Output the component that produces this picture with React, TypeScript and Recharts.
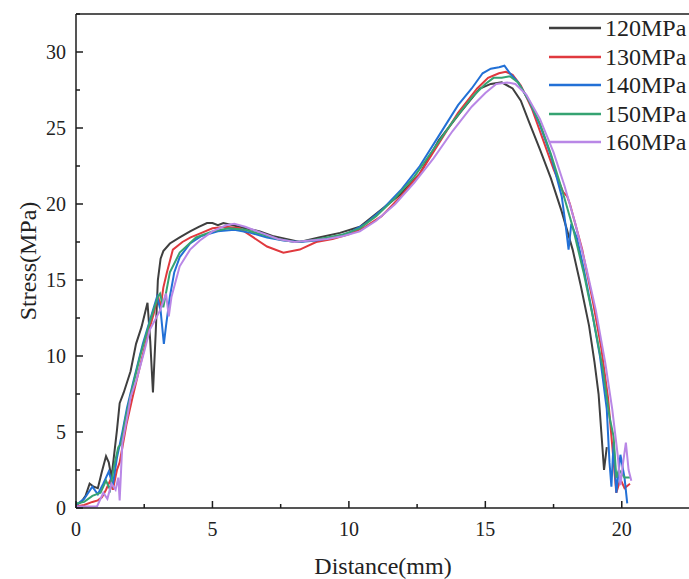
import React from 'react';
import {
  LineChart,
  Line,
  XAxis,
  YAxis,
  ReferenceLine
} from 'recharts';

// distance (mm) / stress (MPa), one pair per pressure
const dist120 = [0, 0.2, 0.35, 0.5, 0.65, 0.8, 0.95, 1.1, 1.2, 1.3, 1.5, 1.6, 1.75, 2.0, 2.2, 2.4, 2.62, 2.72, 2.82, 2.92, 3.0, 3.1, 3.2, 3.44, 3.8, 4.18, 4.5, 4.8, 5.0, 5.2, 5.4, 5.75, 6.2, 6.74, 7.2, 7.7, 8.2, 8.9, 9.67, 10.4, 11.1, 11.87, 12.6, 13.3, 14.07, 14.8, 15.2, 15.6, 16.0, 16.3, 16.6, 17.0, 17.4, 17.8, 18.2, 18.5, 18.8, 19.0, 19.15, 19.25, 19.35, 19.45];
const stress120 = [0.2, 0.4, 0.8, 1.6, 1.4, 1.3, 2.4, 3.4, 3.0, 2.0, 5.1, 6.9, 7.6, 9.0, 10.8, 11.9, 13.5, 11.0, 7.6, 11.5, 15.0, 16.4, 16.9, 17.4, 17.8, 18.2, 18.5, 18.75, 18.75, 18.6, 18.75, 18.6, 18.4, 18.2, 17.9, 17.7, 17.5, 17.8, 18.1, 18.5, 19.5, 20.6, 22.0, 24.2, 26.0, 27.6, 27.9, 28.0, 27.6, 26.8, 25.4, 23.6, 21.7, 19.5, 17.0, 14.6, 12.0, 9.6, 7.5, 5.0, 2.5, 4.0];

const dist130 = [0, 0.3, 0.6, 0.8, 0.95, 1.1, 1.25, 1.35, 1.5, 1.6, 1.7, 1.85, 2.05, 2.3, 2.6, 2.85, 3.0, 3.1, 3.2, 3.33, 3.55, 3.9, 4.2, 4.6, 5.0, 5.5, 6.0, 6.5, 7.0, 7.6, 8.2, 8.8, 9.4, 10.0, 10.6, 11.2, 11.9, 12.6, 13.3, 14.0, 14.7, 15.1, 15.5, 15.75, 16.0, 16.3, 16.7, 17.1, 17.5, 17.85, 18.0, 18.1, 18.55, 18.95, 19.25, 19.5, 19.68, 19.8, 19.95, 20.1, 20.3];
const stress130 = [0.1, 0.2, 0.4, 0.5, 0.7, 1.2, 1.8, 1.2, 2.5, 3.0, 4.0, 5.5, 7.1, 9.0, 11.2, 12.8, 14.0, 13.2, 14.5, 15.5, 17.0, 17.5, 17.8, 18.1, 18.4, 18.5, 18.4, 17.8, 17.2, 16.8, 17.0, 17.5, 17.7, 18.0, 18.5, 19.2, 20.5, 22.0, 24.0, 26.0, 27.6, 28.3, 28.6, 28.7, 28.5, 27.8, 26.3, 24.3, 22.3, 20.8, 20.5, 20.0, 17.0, 13.5, 10.5, 7.2, 3.5, 1.0, 1.9, 1.3, 1.6];

const dist140 = [0, 0.3, 0.6, 0.8, 1.0, 1.2, 1.35, 1.5, 1.7, 1.87, 2.1, 2.45, 2.75, 2.97, 3.1, 3.22, 3.3, 3.44, 3.6, 3.8, 4.18, 4.6, 5.2, 5.8, 6.4, 7.0, 7.6, 8.2, 8.8, 9.4, 10.0, 10.6, 11.2, 11.9, 12.6, 13.3, 14.0, 14.5, 14.9, 15.2, 15.5, 15.7, 15.9, 16.2, 16.6, 17.0, 17.4, 17.8, 17.95, 18.05, 18.15, 18.35, 18.6, 18.9, 19.2, 19.45, 19.55, 19.62, 19.7, 19.8, 19.95, 20.1, 20.2];
const stress140 = [0.2, 0.6, 1.4, 0.9, 1.6, 2.4, 1.5, 3.3, 5.0, 6.6, 8.3, 10.8, 12.6, 13.9, 13.0, 10.8, 12.0, 13.9, 15.5, 16.5, 17.4, 17.9, 18.2, 18.3, 18.1, 17.8, 17.6, 17.5, 17.6, 17.8, 18.1, 18.7, 19.6, 20.9, 22.5, 24.5, 26.5, 27.6, 28.6, 28.9, 29.0, 29.1, 28.6, 28.0, 26.8, 25.2, 23.2, 20.5, 18.5, 17.0, 18.7, 17.8, 15.8, 13.0, 10.0, 6.5, 3.0, 1.4, 4.3, 1.0, 3.5, 2.0, 0.3];

const dist150 = [0, 0.3, 0.6, 0.9, 1.1, 1.25, 1.4, 1.55, 1.65, 1.8, 2.05, 2.35, 2.7, 3.0, 3.08, 3.2, 3.44, 3.8, 4.4, 5.0, 5.6, 6.2, 6.8, 7.4, 8.0, 8.6, 9.2, 9.8, 10.4, 11.0, 11.7, 12.4, 13.1, 13.8, 14.5, 15.0, 15.3, 15.6, 15.9, 16.2, 16.6, 17.0, 17.4, 17.8, 18.2, 18.6, 18.95, 19.3, 19.55, 19.7, 19.8, 19.9, 20.1, 20.3];
const stress150 = [0.3, 0.4, 0.8, 1.0, 1.8, 1.2, 2.8, 4.0, 4.2, 5.8, 7.8, 10.0, 12.2, 13.9, 14.1, 13.2, 15.5, 16.8, 17.8, 18.2, 18.4, 18.3, 18.0, 17.7, 17.5, 17.6, 17.8, 18.0, 18.4, 19.2, 20.4, 21.8, 23.6, 25.4, 27.0, 27.9, 28.3, 28.3, 28.4, 28.0, 26.8, 25.3, 23.3, 21.0, 18.5, 15.5, 12.5, 9.2, 6.0, 4.7, 2.0, 2.5, 2.0, 2.0];

const dist160 = [0, 0.4, 0.77, 1.0, 1.15, 1.3, 1.45, 1.55, 1.6, 1.7, 1.9, 2.0, 2.23, 2.5, 2.7, 3.08, 3.3, 3.4, 3.5, 3.8, 4.18, 4.54, 5.0, 5.5, 5.8, 6.2, 6.8, 7.4, 8.0, 8.6, 9.2, 9.8, 10.4, 11.0, 11.7, 12.4, 13.1, 13.8, 14.5, 15.0, 15.4, 15.8, 16.1, 16.5, 17.0, 17.5, 17.9, 18.3, 18.7, 19.05, 19.4, 19.65, 19.85, 19.95, 20.05, 20.15, 20.25, 20.35];
const stress160 = [0.1, 0.1, 0.1, 1.0, 0.6, 1.6, 1.2, 2.0, 0.5, 4.3, 6.2, 7.3, 8.5, 10.3, 11.7, 13.0, 14.1, 12.6, 13.9, 15.9, 17.0, 17.6, 18.2, 18.6, 18.7, 18.5, 18.1, 17.7, 17.5, 17.6, 17.7, 17.9, 18.2, 18.9, 20.0, 21.4, 23.0, 24.8, 26.4, 27.3, 27.9, 28.0, 27.9, 27.2, 25.6, 23.4, 21.2, 18.7, 15.8, 13.0, 9.5, 6.5, 3.5, 1.5, 3.0, 4.3, 2.5, 1.8];

const seriesNames = ['120MPa', '130MPa', '140MPa', '150MPa', '160MPa'];
const seriesColors = ['#3f3f3f', '#e0393e', '#2270d6', '#36a372', '#b987e6'];

const xTicks = [0, 2.5, 5, 7.5, 10, 12.5, 15, 17.5, 20, 22.5];
const yTicks = [0, 2.5, 5, 7.5, 10, 12.5, 15, 17.5, 20, 22.5, 25, 27.5, 30, 32.5];

const toPoints = (xs: number[], ys: number[]) => xs.map((x, i) => ({ x, y: ys[i] }));

const series = [
  toPoints(dist120, stress120),
  toPoints(dist130, stress130),
  toPoints(dist140, stress140),
  toPoints(dist150, stress150),
  toPoints(dist160, stress160)
];

const FONT = '"Liberation Serif", "Times New Roman", serif';
const AXIS = '#1c1c1c';
const textStyle = { fontFamily: FONT };

const XTick = ({ x, y, payload }: any) => {
  const major = payload.value % 5 === 0;
  return (
    <g>
      <line x1={x} x2={x} y1={y} y2={y - (major ? 7 : 4)} stroke={AXIS} strokeWidth={1.5} />
      {major && (
        <text x={x} y={y + 21} textAnchor="middle" dominantBaseline="central" style={textStyle} fontSize={20} fill="#222">
          {payload.value}
        </text>
      )}
    </g>
  );
};

const YTick = ({ x, y, payload }: any) => {
  const major = payload.value % 5 === 0;
  return (
    <g>
      <line x1={x} x2={x + (major ? 7 : 4)} y1={y} y2={y} stroke={AXIS} strokeWidth={1.5} />
      {major && (
        <text x={x - 10} y={y} textAnchor="end" dominantBaseline="central" style={textStyle} fontSize={20} fill="#222">
          {payload.value}
        </text>
      )}
    </g>
  );
};

const YTitle = ({ viewBox }: any) => {
  const cx = viewBox.x + 12;
  const cy = viewBox.y + viewBox.height / 2;
  return (
    <text x={cx} y={cy} transform={`rotate(-90, ${cx}, ${cy})`} textAnchor="middle" dominantBaseline="central" style={textStyle} fontSize={24} fill="#222">
      Stress(MPa)
    </text>
  );
};

const XTitle = ({ viewBox }: any) => (
  <text x={viewBox.x + viewBox.width / 2} y={viewBox.y + 58} textAnchor="middle" dominantBaseline="central" style={textStyle} fontSize={24} fill="#222">
    Distance(mm)
  </text>
);

const LegendBox = () => (
  <div style={{ position: 'absolute', top: 14, left: 549, fontFamily: FONT, fontSize: 24, color: '#222' }}>
    {seriesNames.map((name, i) => (
      <div key={name} style={{ display: 'flex', alignItems: 'center', height: 28.5 }}>
        <svg width={56} height={10} style={{ display: 'block' }}>
          <line x1={0} x2={52} y1={5} y2={5} stroke={seriesColors[i]} strokeWidth={2.5} />
        </svg>
        <span style={{ lineHeight: '28px', whiteSpace: 'nowrap' }}>{name}</span>
      </div>
    ))}
  </div>
);

export default function App() {
  return (
    <div style={{ position: 'absolute', left: 0, top: 0, width: 689, height: 579, overflow: 'hidden', background: '#fff' }}>
      <LineChart width={700} height={579} margin={{ top: 14, right: 10, left: 16, bottom: 0 }}>
        <XAxis
          type="number"
          dataKey="x"
          domain={[0, 22.5]}
          ticks={xTicks}
          interval={0}
          tickSize={0}
          tickMargin={0}
          tick={<XTick />}
          height={71}
          axisLine={{ stroke: AXIS, strokeWidth: 1.5 }}
          label={XTitle}
        />
        <YAxis
          type="number"
          domain={[0, 32.5]}
          ticks={yTicks}
          interval={0}
          tickSize={0}
          tickMargin={0}
          tick={<YTick />}
          width={60}
          axisLine={{ stroke: AXIS, strokeWidth: 1.5 }}
          label={YTitle}
        />
        <ReferenceLine y={32.5} stroke={AXIS} strokeWidth={1.5} />
        {series.map((pts, i) => (
          <Line
            key={seriesNames[i]}
            data={pts}
            dataKey="y"
            name={seriesNames[i]}
            type="linear"
            stroke={seriesColors[i]}
            strokeWidth={2}
            dot={false}
            isAnimationActive={false}
          />
        ))}
      </LineChart>
      <LegendBox />
    </div>
  );
}
